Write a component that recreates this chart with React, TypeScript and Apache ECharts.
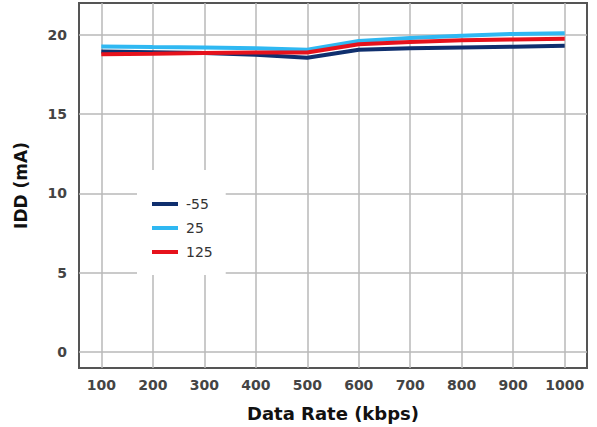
import React, { useEffect, useRef } from "react";
import * as echarts from "echarts";

const dataRates = [100, 200, 300, 400, 500, 600, 700, 800, 900, 1000];
const yTicks = [0, 5, 10, 15, 20];
const seriesNames = ["-55", "25", "125"];
const iddMinus55 = [18.95, 18.9, 18.85, 18.74, 18.55, 19.05, 19.15, 19.2, 19.25, 19.3];
const idd25 = [19.26, 19.22, 19.19, 19.15, 19.05, 19.6, 19.8, 19.94, 20.05, 20.1];
const idd125 = [18.77, 18.8, 18.85, 18.88, 18.88, 19.4, 19.55, 19.65, 19.7, 19.75];
const colors = ["#0f2f6e", "#2fb8f2", "#e6121c"];

export default function App() {
  const ref = useRef<HTMLDivElement>(null);
  useEffect(() => {
    document.body.style.margin = "0";
    const chart = echarts.init(ref.current!, null, { renderer: "svg" });
    const values = [iddMinus55, idd25, idd125];
    chart.setOption({
      animation: false,
      backgroundColor: "#ffffff",
      grid: {
        left: 79,
        right: 10,
        top: 3,
        bottom: 58,
        show: true,
        borderColor: "#555555",
        borderWidth: 2,
        backgroundColor: "transparent",
      },
      legend: {
        orient: "vertical",
        left: 137,
        top: 170,
        backgroundColor: "#ffffff",
        padding: [27, 13, 16, 15],
        itemWidth: 26,
        itemHeight: 4,
        itemGap: 10,
        icon: "rect",
        selectedMode: false,
        textStyle: {
          fontFamily: "DejaVu Sans",
          fontSize: 14,
          color: "#333333",
          padding: [0, 0, 0, 3],
        },
        data: seriesNames,
        z: 10,
      },
      xAxis: {
        type: "value",
        min: 56.7,
        max: 1043.3,
        name: "Data Rate (kbps)",
        nameLocation: "middle",
        nameGap: 36,
        nameTextStyle: {
          fontFamily: "DejaVu Sans",
          fontWeight: "bold",
          fontSize: 18,
          color: "#111111",
        },
        axisLine: { show: false },
        axisTick: { show: false, customValues: dataRates },
        axisLabel: {
          customValues: dataRates,
          formatter: (v: number) => String(v),
          fontFamily: "DejaVu Sans",
          fontWeight: "bold",
          fontSize: 14,
          color: "#444444",
          margin: 10,
        },
        splitLine: { show: true, lineStyle: { color: "#b8b8b8", width: 1.5 } },
      },
      yAxis: {
        type: "value",
        min: -1,
        max: 22,
        name: "IDD (mA)",
        nameLocation: "middle",
        nameGap: 50,
        nameTextStyle: {
          fontFamily: "DejaVu Sans",
          fontWeight: "bold",
          fontSize: 17,
          color: "#111111",
        },
        axisLine: { show: false },
        axisTick: { show: false, customValues: yTicks },
        axisLabel: {
          customValues: yTicks,
          formatter: (v: number) => String(v),
          fontFamily: "DejaVu Sans",
          fontWeight: "bold",
          fontSize: 14,
          color: "#444444",
          margin: 12,
        },
        splitLine: { show: true, lineStyle: { color: "#b8b8b8", width: 1.5 } },
      },
      series: seriesNames.map((name, i) => ({
        name,
        type: "line",
        data: dataRates.map((x, j) => [x, values[i][j]]),
        showSymbol: false,
        symbol: "none",
        color: colors[i],
        lineStyle: { width: 4, color: colors[i] },
        z: 3 + i,
      })),
    });
    return () => chart.dispose();
  }, []);
  return <div ref={ref} style={{ width: 597, height: 427 }} />;
}
